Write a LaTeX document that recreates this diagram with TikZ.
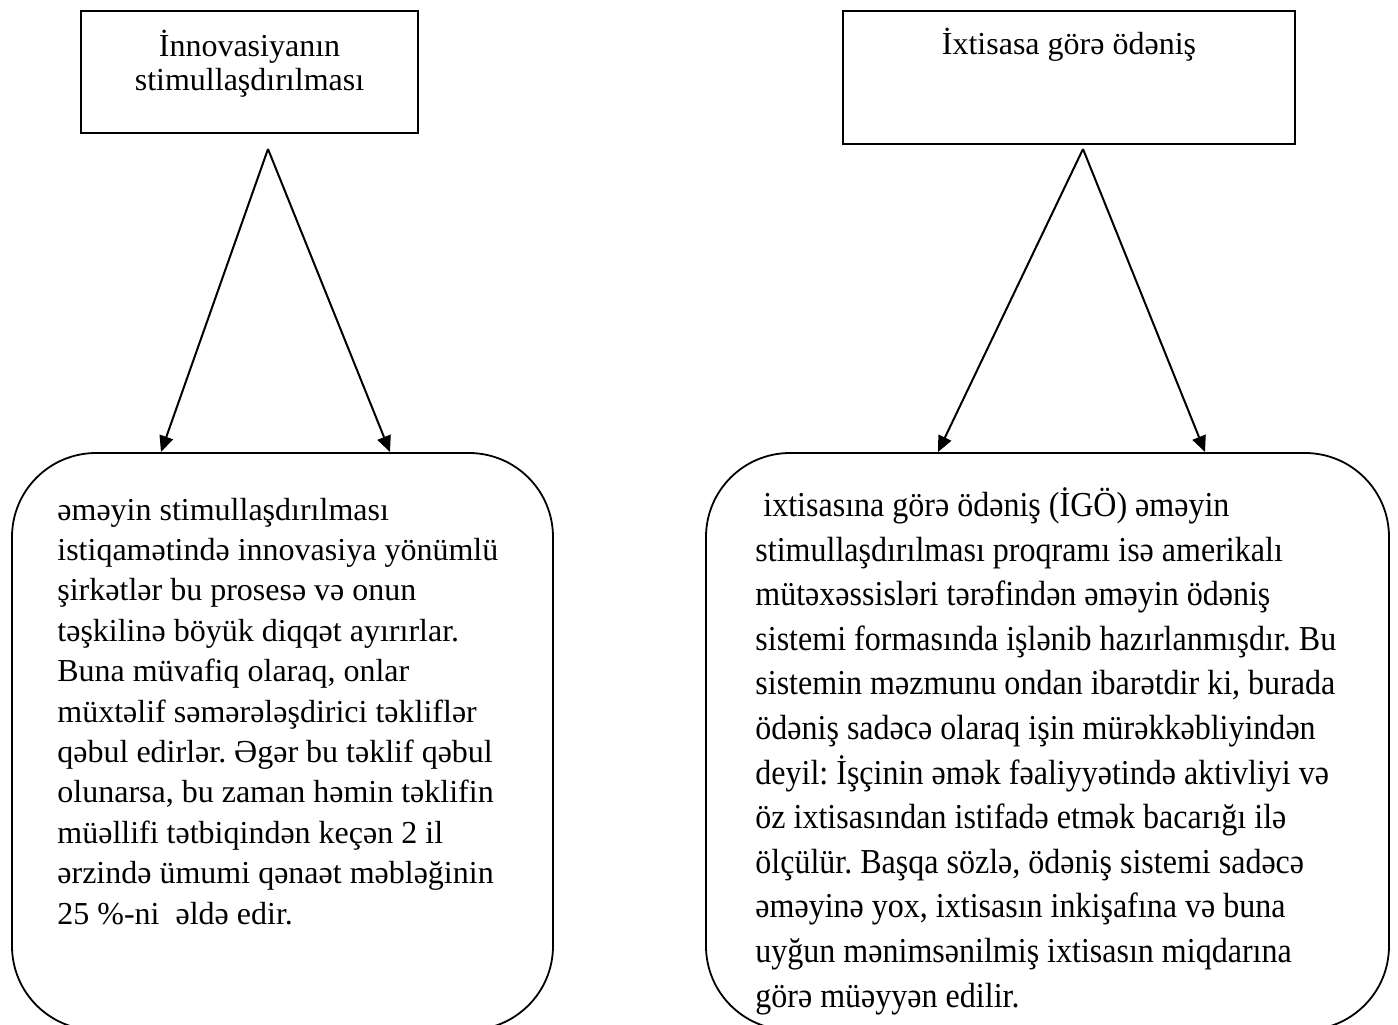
\documentclass[tikz,border=0pt]{standalone}
\usepackage{fontspec}
\setmainfont{Liberation Serif}
% slightly condensed face for the right-hand description
\newfontfamily\narrowserif[FakeStretch=0.915]{Liberation Serif}
\usetikzlibrary{arrows.meta}
\frenchspacing
\begin{document}
\begin{tikzpicture}[x=0.5pt,y=-0.5pt,
  topbox/.style={draw, line width=1pt, inner sep=0pt},
  roundbox/.style={draw, line width=0.9pt, rounded corners=42pt, inner sep=0pt},
  headtext/.style={inner sep=0pt, font=\fontsize{16pt}{17pt}\selectfont, align=center, anchor=base},
  bodytext/.style={inner sep=0pt, font=\fontsize{16pt}{20.2pt}\selectfont, align=left, anchor=base west},
  arr/.style={line width=1pt, -{Triangle[length=8pt,width=7pt]}}]
\useasboundingbox (0,0) rectangle (1398,1024);

% heading boxes (text anchored at the baseline of its last line)
\node[topbox, minimum width=168.5pt, minimum height=61pt] (innov) at (249.5,72) {};
\node[headtext] (innovT) at (249.5,90) {İnnovasiyanın\\stimullaşdırılması};

\node[topbox, minimum width=226pt, minimum height=66.5pt] (ixt) at (1069,77.5) {};
\node[headtext] (ixtT) at (1069,54) {İxtisasa görə ödəniş};

% description boxes
\node[roundbox, minimum width=270.5pt, minimum height=288.5pt] (leftBody) at (282.5,741.5) {};
\node[roundbox, minimum width=341.5pt, minimum height=288.5pt] (rightBody) at (1047.5,741.5) {};

\node[bodytext] (leftText) at (57,924) {əməyin stimullaşdırılması\\
istiqamətində innovasiya yönümlü\\
şirkətlər bu prosesə və onun\\
təşkilinə böyük diqqət ayırırlar.\\
Buna müvafiq olaraq, onlar\\
müxtəlif səmərələşdirici təkliflər\\
qəbul edirlər. Əgər bu təklif qəbul\\
olunarsa, bu zaman həmin təklifin\\
müəllifi tətbiqindən keçən 2 il\\
ərzində ümumi qənaət məbləğinin\\
25 \%-ni\ \ əldə edir.};

\node[bodytext, font=\narrowserif\fontsize{17.5pt}{22.3pt}\selectfont] (rightText) at (755,1007) {\ ixtisasına görə ödəniş (İGÖ) əməyin\\
stimullaşdırılması proqramı isə amerikalı\\
mütəxəssisləri tərəfindən əməyin ödəniş\\
sistemi formasında işlənib hazırlanmışdır. Bu\\
sistemin məzmunu ondan ibarətdir ki, burada\\
ödəniş sadəcə olaraq işin mürəkkəbliyindən\\
deyil: İşçinin əmək fəaliyyətində aktivliyi və\\
öz ixtisasından istifadə etmək bacarığı ilə\\
ölçülür. Başqa sözlə, ödəniş sistemi sadəcə\\
əməyinə yox, ixtisasın inkişafına və buna\\
uyğun mənimsənilmiş ixtisasın miqdarına\\
görə müəyyən edilir.};

% connectors
\coordinate (apexL) at (268,149);
\coordinate (tipL1) at (161,452);
\coordinate (tipL2) at (390,452);
\coordinate (apexR) at (1083,149);
\coordinate (tipR1) at (938,452);
\coordinate (tipR2) at (1205,452);

\draw[arr] (apexL) -- (tipL1);
\draw[arr] (apexL) -- (tipL2);
\draw[arr] (apexR) -- (tipR1);
\draw[arr] (apexR) -- (tipR2);
\end{tikzpicture}
\end{document}
